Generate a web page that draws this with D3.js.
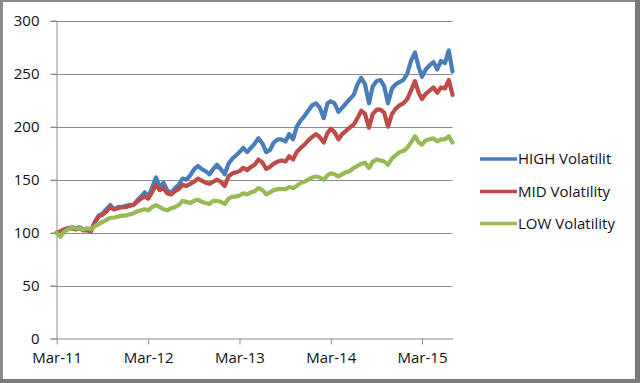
<!DOCTYPE html>
<html><head><meta charset="utf-8">
<script src="https://cdn.jsdelivr.net/npm/d3@7"></script>
<style>html,body{margin:0;padding:0;background:#fff;}svg{display:block;}</style>
</head><body>
<svg id="c" width="640" height="383"></svg>
<script>
const dates = [
"2011-03-01","2011-03-16","2011-04-01","2011-04-16","2011-05-01","2011-05-16","2011-06-01","2011-06-16","2011-07-01","2011-07-16",
"2011-08-01","2011-08-16","2011-09-01","2011-09-16","2011-10-01","2011-10-16","2011-11-01","2011-11-16","2011-12-01","2011-12-16",
"2012-01-01","2012-01-16","2012-02-01","2012-02-16","2012-03-01","2012-03-16","2012-04-01","2012-04-16","2012-05-01","2012-05-16",
"2012-06-01","2012-06-16","2012-07-01","2012-07-16","2012-08-01","2012-08-16","2012-09-01","2012-09-16","2012-10-01","2012-10-16",
"2012-11-01","2012-11-16","2012-12-01","2012-12-16","2013-01-01","2013-01-16","2013-02-01","2013-02-16","2013-03-01","2013-03-16",
"2013-04-01","2013-04-16","2013-05-01","2013-05-16","2013-06-01","2013-06-16","2013-07-01","2013-07-16","2013-08-01","2013-08-16",
"2013-09-01","2013-09-16","2013-10-01","2013-10-16","2013-11-01","2013-11-16","2013-12-01","2013-12-16","2014-01-01","2014-01-16",
"2014-02-01","2014-02-16","2014-03-01","2014-03-16","2014-04-01","2014-04-16","2014-05-01","2014-05-16","2014-06-01","2014-06-16",
"2014-07-01","2014-07-16","2014-08-01","2014-08-16","2014-09-01","2014-09-16","2014-10-01","2014-10-16","2014-11-01","2014-11-16",
"2014-12-01","2014-12-16","2015-01-01","2015-01-16","2015-02-01","2015-02-16","2015-03-01","2015-03-16","2015-04-01","2015-04-16",
"2015-05-01","2015-05-16","2015-06-01","2015-06-16","2015-07-01"];

const highVol = [
100,101,103,104,105,104,105,103,103,102,
110,116,118,122,126,122,124,124,125,126,
126,130,134,138,134,142,152,143,147,140,
137,142,145,151,150,154,160,163,160,158,
155,160,164,160,155,165,170,173,176,180,
176,180,184,189,184,176,178,185,188,188,
186,193,188,200,206,210,215,220,222,218,
208,222,224,222,214,218,222,226,230,240,
246,240,222,238,243,244,238,222,236,240,
242,244,250,262,270,256,247,254,258,261,
254,262,260,272,252];

const midVol = [
100,101,103,104,104,103,104,102,102,101,
110,115,117,120,124,122,123,124,124,125,
126,129,132,134,132,138,145,140,142,137,
136,139,141,145,144,146,148,151,149,147,
146,148,150,148,144,153,156,157,158,161,
159,162,164,169,166,160,162,165,167,168,
167,172,169,176,180,183,187,190,193,190,
185,194,198,195,188,193,196,199,202,208,
215,212,199,212,216,216,213,200,212,217,
220,222,226,234,243,232,226,231,234,237,
232,237,236,244,230];

const lowVol = [
100,96,101,103,105,104,104,103,104,103,
106,108,110,112,114,114,115,116,116,117,
118,120,121,122,121,124,126,124,122,121,
123,124,126,130,129,128,130,131,129,128,
127,130,130,129,127,132,134,134,135,137,
136,138,139,142,140,136,138,140,141,141,
141,143,142,144,147,148,150,152,153,152,
150,154,156,155,153,155,157,158,161,163,
165,166,161,167,169,168,167,164,170,173,
176,177,180,185,191,185,183,187,188,189,
186,188,188,191,185];

const seriesNames = ["HIGH Volatilit", "MID Volatility", "LOW Volatility"];
const seriesColors = ["#4A7EBB", "#BE4B48", "#98B954"];
const yTicks = [0, 50, 100, 150, 200, 250, 300];
const xTickDates = ["2011-03-01", "2012-03-01", "2013-03-01", "2014-03-01", "2015-03-01"];

const parse = d3.timeParse("%Y-%m-%d");
const fmt = d3.timeFormat("%b-%y");
const svg = d3.select("#c");
const font = "'Open Sans', sans-serif";

// frame
svg.append("rect").attr("x", 0).attr("y", 0).attr("width", 640).attr("height", 383).attr("fill", "#fff");
svg.append("rect").attr("x", 0).attr("y", 0).attr("width", 3).attr("height", 383).attr("fill", "#8a8a8a");
svg.append("rect").attr("x", 0).attr("y", 0).attr("width", 640).attr("height", 2).attr("fill", "#8a8a8a");
svg.append("rect").attr("x", 635).attr("y", 0).attr("width", 5).attr("height", 383).attr("fill", "#7a7a7a");
svg.append("rect").attr("x", 0).attr("y", 379).attr("width", 640).attr("height", 4).attr("fill", "#7a7a7a");

const x = d3.scaleTime().domain([parse("2011-03-01"), parse("2015-07-01")]).range([56.7, 452.5]);
const y = d3.scaleLinear().domain([0, 300]).range([338.5, 20.7]);

// gridlines
svg.append("g").selectAll("line").data(yTicks.filter(v => v > 0)).join("line")
  .attr("x1", 50.5).attr("x2", 452.5)
  .attr("y1", d => Math.round(y(d)) + 0.5).attr("y2", d => Math.round(y(d)) + 0.5)
  .attr("stroke", "#8c8c8c").attr("stroke-width", 1);

// y axis
const yAxis = svg.append("g").attr("transform", "translate(56.5,0)")
  .call(d3.axisLeft(y).tickValues(yTicks).tickSize(6).tickPadding(11).tickFormat(d3.format("d")));
yAxis.select(".domain").attr("stroke", "#8c8c8c");
yAxis.selectAll(".tick line").attr("stroke", "#8c8c8c");
yAxis.selectAll(".tick text").attr("font-family", font).attr("font-size", 15).attr("fill", "#111");

// x axis
const xAxis = svg.append("g").attr("transform", "translate(0,338.5)")
  .call(d3.axisBottom(x).tickValues(xTickDates.map(parse)).tickSize(6).tickSizeOuter(0).tickPadding(8).tickFormat(fmt));
xAxis.select(".domain").attr("stroke", "#8c8c8c");
xAxis.selectAll(".tick line").attr("stroke", "#8c8c8c");
xAxis.selectAll(".tick text").attr("font-family", font).attr("font-size", 15).attr("fill", "#111");

// lines
const allSeries = [highVol, midVol, lowVol];
const line = d3.line().x((d, i) => x(parse(dates[i]))).y(d => y(d));
allSeries.forEach((vals, k) => {
  svg.append("path").datum(vals).attr("d", line)
    .attr("fill", "none").attr("stroke", seriesColors[k]).attr("stroke-width", 4.2)
    .attr("stroke-linejoin", "round").attr("stroke-linecap", "round");
});

// legend
const legY = [159, 191.5, 223.5];
seriesNames.forEach((n, k) => {
  svg.append("line").attr("x1", 480).attr("x2", 517).attr("y1", legY[k]).attr("y2", legY[k])
    .attr("stroke", seriesColors[k]).attr("stroke-width", 3.6);
  svg.append("text").attr("x", 518).attr("y", legY[k]).attr("dy", "0.35em")
    .attr("font-family", font).attr("font-size", 15).attr("fill", "#111").text(n);
});
</script>
</body></html>
